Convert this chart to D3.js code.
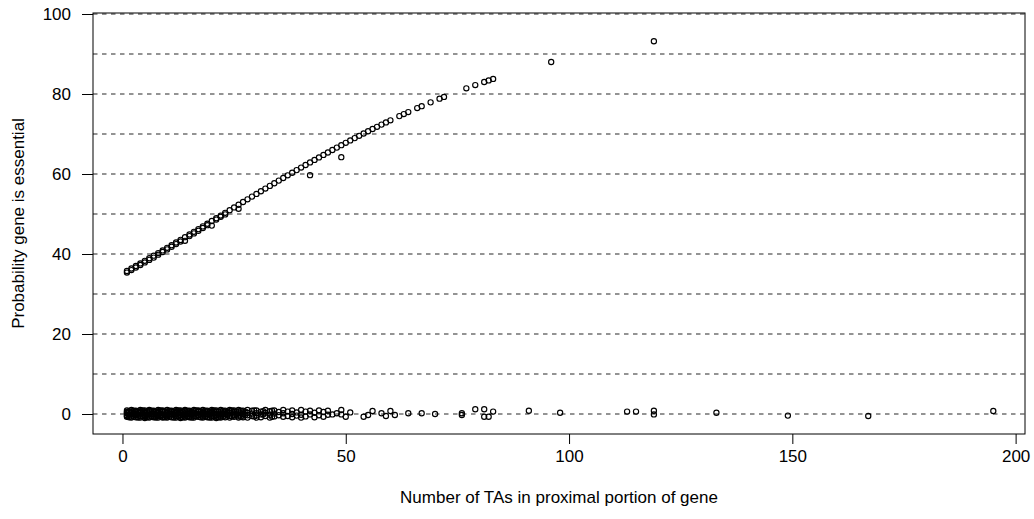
<!DOCTYPE html>
<html>
<head>
<meta charset="utf-8">
<script src="https://cdn.jsdelivr.net/npm/d3@7/dist/d3.min.js"></script>
<style>
  html, body { margin: 0; padding: 0; background: #fff; }
  svg { display: block; }
  text { font-family: "Liberation Sans", Arial, Helvetica, sans-serif; fill: #000; }
</style>
</head>
<body>
<svg id="chart" width="1034" height="519"></svg>
<script>
// ---------- data ----------
const xTicks = [0, 50, 100, 150, 200];
const yTicks = [0, 20, 40, 60, 80, 100];
const gridLevels = [0, 10, 20, 30, 40, 50, 60, 70, 80, 90, 100];
const xTitle = "Number of TAs in proximal portion of gene";
const yTitle = "Probability gene is essential";

// upper band: probability vs number of TAs
const essX = [1,2,3,4,5,6,7,8,9,10,11,12,13,14,15,16,17,18,19,20,
  21,22,23,24,25,26,27,28,29,30,31,32,33,34,35,36,37,38,39,40,
  41,42,43,44,45,46,47,48,49,50,51,52,53,54,55,56,57,58,59,60,
  62,63,64,66,67,69,71,72,77,79,81,82,83,96,119];
const essY = [35.76,36.38,37.02,37.65,38.29,38.93,39.58,40.23,40.89,41.55,
  42.21,42.87,43.53,44.20,44.87,45.55,46.22,46.90,47.57,48.25,
  48.93,49.61,50.29,50.96,51.64,52.32,53.00,53.67,54.35,55.02,
  55.69,56.36,57.03,57.69,58.35,59.01,59.67,60.32,60.97,61.61,
  62.25,62.89,63.52,64.14,64.77,65.38,65.99,66.60,67.20,67.80,
  68.39,68.97,69.55,70.12,70.69,71.25,71.80,72.35,72.89,73.42,
  74.47,74.98,75.48,76.48,76.96,77.91,78.83,79.27,81.42,82.23,83.01,83.39,83.77,88.0,93.2];
// second row of the thick start of the band, and points a little below it
const ess2X = [1,2,3,4,5,6,8,9,10,11,12,13,15,16,17,18,19,21,22,23,7,14,20,26,42,49];
const ess2Y = [35.36,35.98,36.62,37.25,37.89,38.53,39.83,40.49,41.15,41.81,42.47,43.13,44.47,45.15,45.82,46.50,
  47.2,48.6,49.3,49.9,39.1,43.3,47.1,51.3,59.7,64.2];

// lower band near zero: dense part (several points per x)
const lowDenseX = [1,2,3,4,5,6,7,8,9,10,11,12,13,14,15,16,17,18,19,20,21,22,23,
  24,25,26,27,28,29,30,31,32,33,34,35,36,37,38,39,40,41,42,43,44,45,46];
const lowDenseY = [
  [0.9,0.5,0.1,-0.3,-0.7,0.3,-0.5],
  [1.0,0.6,0.2,-0.2,-0.6,-0.9,0.4],
  [0.8,0.4,0,-0.4,-0.8,0.6,-0.2],
  [1.0,0.7,0.3,-0.1,-0.5,-0.9,0.5],
  [0.9,0.5,0.1,-0.3,-0.7,-1.0,0.3,-0.5],
  [1.0,0.6,0.2,-0.2,-0.6,-0.9,0.8],
  [0.8,0.4,0,-0.4,-0.8,0.6,-0.6],
  [1.0,0.7,0.3,-0.1,-0.5,-0.9,0.5,-0.3],
  [0.9,0.5,0.1,-0.3,-0.7,0.7,-0.9],
  [1.0,0.6,0.2,-0.2,-0.6,-0.9,0.4,-0.4],
  [0.8,0.4,0,-0.4,-0.8,0.6],
  [1.0,0.7,0.3,-0.1,-0.5,-0.9,0.5],
  [0.9,0.5,0.1,-0.3,-0.7,0.3,-1.0],
  [1.0,0.6,0.2,-0.2,-0.6,-0.9,0.8],
  [0.8,0.4,0,-0.4,-0.8,0.6,-0.6,0.2],
  [1.0,0.7,0.3,-0.1,-0.5,-0.9],
  [0.9,0.5,0.1,-0.3,-0.7,0.7],
  [1.0,0.6,0.2,-0.2,-0.6,-0.9,0.4],
  [0.8,0.4,0,-0.4,-0.8,0.6],
  [1.0,0.7,0.3,-0.1,-0.5,-0.9,0.5],
  [0.9,0.5,0.1,-0.3,-0.7,-1.0],
  [1.0,0.6,0.2,-0.2,-0.6,-0.9],
  [0.8,0.4,0,-0.4,-0.8,0.6],
  [1.0,0.7,0.3,-0.1,-0.5,-0.9],
  [0.9,0.5,0.1,-0.3,-0.7],
  [1.0,0.6,0.2,-0.2,-0.6,-0.9],
  [0.8,0.4,0,-0.4,-0.8],
  [1.0,0.3,-0.3,-0.9],
  [0.8,0.1,-0.5],
  [0.9,0.2,-0.4,-0.9],
  [0.6,-0.1,-0.8],
  [1.0,0.3,-0.5],
  [0.7,-0.2,-0.9],
  [0.9,0.1,-0.6],
  [0.5,-0.3],
  [1.0,0.2,-0.7],
  [0.6,-0.5],
  [0.9,0,-0.8],
  [0.4,-0.4],
  [1.0,-0.2,-0.9],
  [0.6,-0.6],
  [0.8,-0.1],
  [0.3,-0.8],
  [0.9,-0.3],
  [0.5,-0.7],
  [0.8,-0.2]];
// points of the dense band that sit between whole numbers (jittered in x)
const lowDense2X = [1.5,2.5,3.5,4.5,5.5,6.5,7.5,8.5,9.5,10.5,11.5,12.5,13.5,14.5,15.5,
  16.5,17.5,18.5,19.5,20.5,21.5,22.5,23.5,24.5,25.5,26.5,27.5,29.5,31.5,33.5];
const lowDense2Y = [
  [0.7,-0.1,-0.8],[0.8,0,-0.7],[0.6,-0.2,-0.9],[0.9,0.1,-0.6],[0.7,-0.1,-0.8],
  [0.8,0,-0.7],[0.6,-0.2,-0.9],[0.9,0.1,-0.6],[0.7,-0.1,-0.8],[0.8,0,-0.7],
  [0.6,-0.2,-0.9],[0.9,0.1,-0.6],[0.7,-0.1,-0.8],[0.8,0,-0.7],[0.6,-0.2,-0.9],
  [0.9,0.1,-0.6],[0.7,-0.1,-0.8],[0.8,0,-0.7],[0.6,-0.2,-0.9],[0.9,0.1,-0.6],
  [0.7,-0.1,-0.8],[0.8,0,-0.7],[0.6,-0.2],[0.9,-0.6],[0.7,-0.1],
  [0.8,-0.7],[0.6,-0.2],[0.9,-0.6],[0.7,-0.1],[0.8,-0.7]];
// lower band: sparse part
const lowSparseX = [47,48,49,49,50,51,54,55,56,58,59,60,61,64,67,70,76,76,79,81,81,82,83,91,98,113,115,119,119,133,149,167,195];
const lowSparseY = [-0.1,0.2,1.0,-0.1,-0.7,0.4,-0.7,-0.25,0.75,0.2,-0.5,0.75,-0.25,0.2,0.2,0,0.2,-0.25,1.2,1.2,-0.7,-0.7,0.6,0.8,0.3,0.6,0.6,0.8,-0.1,0.3,-0.4,-0.5,0.75];

// ---------- layout ----------
const box = { left: 93, right: 1025, top: 13, bottom: 434 };
const svg = d3.select("#chart");

const x = d3.scaleLinear().domain([-6.6, 202.1]).range([box.left, box.right]);
const y = d3.scaleLinear().domain([-5, 100.25]).range([box.bottom, box.top]);

// grid
svg.append("g").selectAll("line").data(gridLevels).join("line")
  .attr("x1", box.left).attr("x2", box.right)
  .attr("y1", d => y(d)).attr("y2", d => y(d))
  .attr("stroke", "#707070").attr("stroke-width", 1.3)
  .attr("stroke-dasharray", "4.5,4.5");

// points
const pts = [];
essX.forEach((v, i) => pts.push([v, essY[i]]));
ess2X.forEach((v, i) => pts.push([v, ess2Y[i]]));
lowDenseX.forEach((v, i) => lowDenseY[i].forEach(j => pts.push([v, j])));
lowDense2X.forEach((v, i) => lowDense2Y[i].forEach(j => pts.push([v, j])));
lowSparseX.forEach((v, i) => pts.push([v, lowSparseY[i]]));

svg.append("g").selectAll("circle").data(pts).join("circle")
  .attr("cx", d => x(d[0])).attr("cy", d => y(d[1]))
  .attr("r", 2.6).attr("fill", "none")
  .attr("stroke", "#000").attr("stroke-width", 1.15);

// box
svg.append("rect")
  .attr("x", box.left).attr("y", box.top)
  .attr("width", box.right - box.left).attr("height", box.bottom - box.top)
  .attr("fill", "none").attr("stroke", "#000").attr("stroke-width", 1);

// axes
const fs = 17;
const xAxis = svg.append("g").attr("transform", `translate(0,${box.bottom})`)
  .call(d3.axisBottom(x).tickValues(xTicks).tickFormat(d3.format("d")).tickSize(10).tickPadding(6));
xAxis.select(".domain").remove();
xAxis.selectAll("line").attr("stroke", "#000");
xAxis.selectAll("text").attr("font-size", fs).attr("font-family", null);

const yAxis = svg.append("g").attr("transform", `translate(${box.left},0)`)
  .call(d3.axisLeft(y).tickValues(yTicks).tickFormat(d3.format("d")).tickSize(11).tickPadding(11));
yAxis.select(".domain").remove();
yAxis.selectAll("line").attr("stroke", "#000");
yAxis.selectAll("text").attr("font-size", fs).attr("font-family", null);

// titles
svg.append("text")
  .attr("x", (box.left + box.right) / 2).attr("y", 503)
  .attr("text-anchor", "middle").attr("font-size", fs)
  .text(xTitle);

svg.append("text")
  .attr("transform", `translate(24,${(box.top + box.bottom) / 2}) rotate(-90)`)
  .attr("text-anchor", "middle").attr("font-size", fs)
  .text(yTitle);
</script>
</body>
</html>
